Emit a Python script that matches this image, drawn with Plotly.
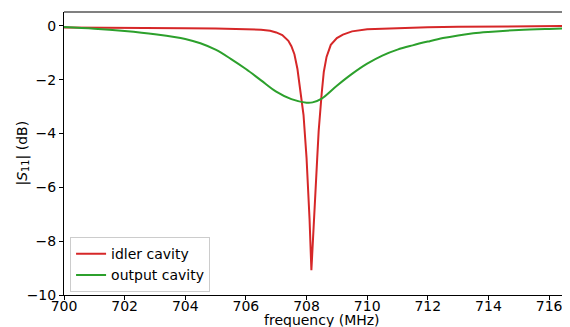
import plotly.graph_objects as go

# idler cavity |S11| (dB)
idler_freq = [700.0, 701.0, 702.0, 703.0, 704.0, 705.0, 706.0, 706.5, 706.8, 707.0,
              707.2, 707.4, 707.5, 707.6, 707.7, 707.8, 707.9, 708.0, 708.05, 708.1,
              708.16, 708.2, 708.25, 708.3, 708.35, 708.4, 708.45, 708.5, 708.57, 708.66,
              708.8, 709.0, 709.2, 709.5, 710.0, 711.0, 712.0, 713.0, 714.0, 715.0,
              716.0, 716.7]
idler_db = [-0.06, -0.06, -0.07, -0.07, -0.08, -0.09, -0.11, -0.14, -0.18, -0.24,
            -0.34, -0.55, -0.75, -1.05, -1.6, -2.4, -3.3, -4.9, -5.9, -7.2,
            -9.08, -8.3, -7.2, -6.1, -4.96, -3.9, -3.1, -2.5, -1.7, -1.15,
            -0.7, -0.45, -0.32, -0.2, -0.12, -0.08, -0.05, -0.03, -0.02, -0.01,
            -0.005, 0.0]

# output cavity |S11| (dB)
output_freq = [700.0, 701.0, 702.0, 703.0, 704.0, 704.5, 705.0, 705.5, 706.0, 706.5,
               707.0, 707.5, 708.0, 708.2, 708.5, 709.0, 709.5, 710.0, 710.5, 711.0,
               711.5, 712.0, 712.5, 713.0, 713.5, 714.0, 715.0, 716.0, 716.7]
output_db = [-0.04, -0.10, -0.19, -0.31, -0.48, -0.64, -0.88, -1.22, -1.60, -2.02,
             -2.44, -2.72, -2.85, -2.84, -2.70, -2.22, -1.78, -1.40, -1.10, -0.88,
             -0.72, -0.58, -0.45, -0.35, -0.27, -0.22, -0.15, -0.11, -0.09]

x_ticks = [700, 702, 704, 706, 708, 710, 712, 714, 716]
y_ticks = [0, -2, -4, -6, -8, -10]
y_ticklabels = ["0", "\u22122", "\u22124", "\u22126", "\u22128", "\u221210"]

font = dict(family="DejaVu Sans", size=14, color="black")

fig = go.Figure()
fig.add_trace(go.Scatter(x=idler_freq, y=idler_db, mode="lines", name="idler cavity",
                         line=dict(color="#d62728", width=2)))
fig.add_trace(go.Scatter(x=output_freq, y=output_db, mode="lines", name="output cavity",
                         line=dict(color="#2ca02c", width=2, shape="spline", smoothing=1.0)))

# page body has an 8px margin, so the figure is 562x319 placed at (8, 8)
fig.update_layout(
    width=562, height=319,
    margin=dict(l=56, r=0, t=4, b=32, autoexpand=False),
    paper_bgcolor="white", plot_bgcolor="white",
    font=font,
    showlegend=True,
    legend=dict(x=0.012, y=0.01, xanchor="left", yanchor="bottom",
                bgcolor="rgba(255,255,255,0.8)", bordercolor="#cccccc", borderwidth=1,
                itemwidth=30, tracegroupgap=0,
                font=dict(family="DejaVu Sans", size=14, color="black")),
    xaxis=dict(range=[700, 716.69], showgrid=False, zeroline=False, automargin=False,
               showline=True, linecolor="black", linewidth=1,
               ticks="outside", ticklen=4, tickcolor="black",
               ticklabelstandoff=-6,
               tickvals=x_ticks, ticktext=[str(v) for v in x_ticks],
               tickfont=font),
    yaxis=dict(range=[-10, 0.52], showgrid=False, zeroline=False, automargin=False,
               showline=True, linecolor="black", linewidth=1,
               ticks="outside", ticklen=4, tickcolor="black",
               tickvals=y_ticks, ticktext=y_ticklabels,
               tickfont=font),
    annotations=[
        dict(text="frequency (MHz)", xref="paper", yref="paper",
             x=(322 - 64) / 506, y=(295 - 320) / 283, xanchor="center", yanchor="middle",
             showarrow=False, font=font),
        dict(text="|<i>S</i><sub>11</sub>| (dB)", xref="paper", yref="paper",
             x=(22 - 64) / 506, y=0.5, xanchor="center", yanchor="middle",
             textangle=-90, showarrow=False, font=font),
    ],
)
fig.add_shape(type="line", xref="paper", yref="paper", x0=0, x1=1, y0=1, y1=1,
              line=dict(color="#808080", width=2))

fig.write_html("out.html")
